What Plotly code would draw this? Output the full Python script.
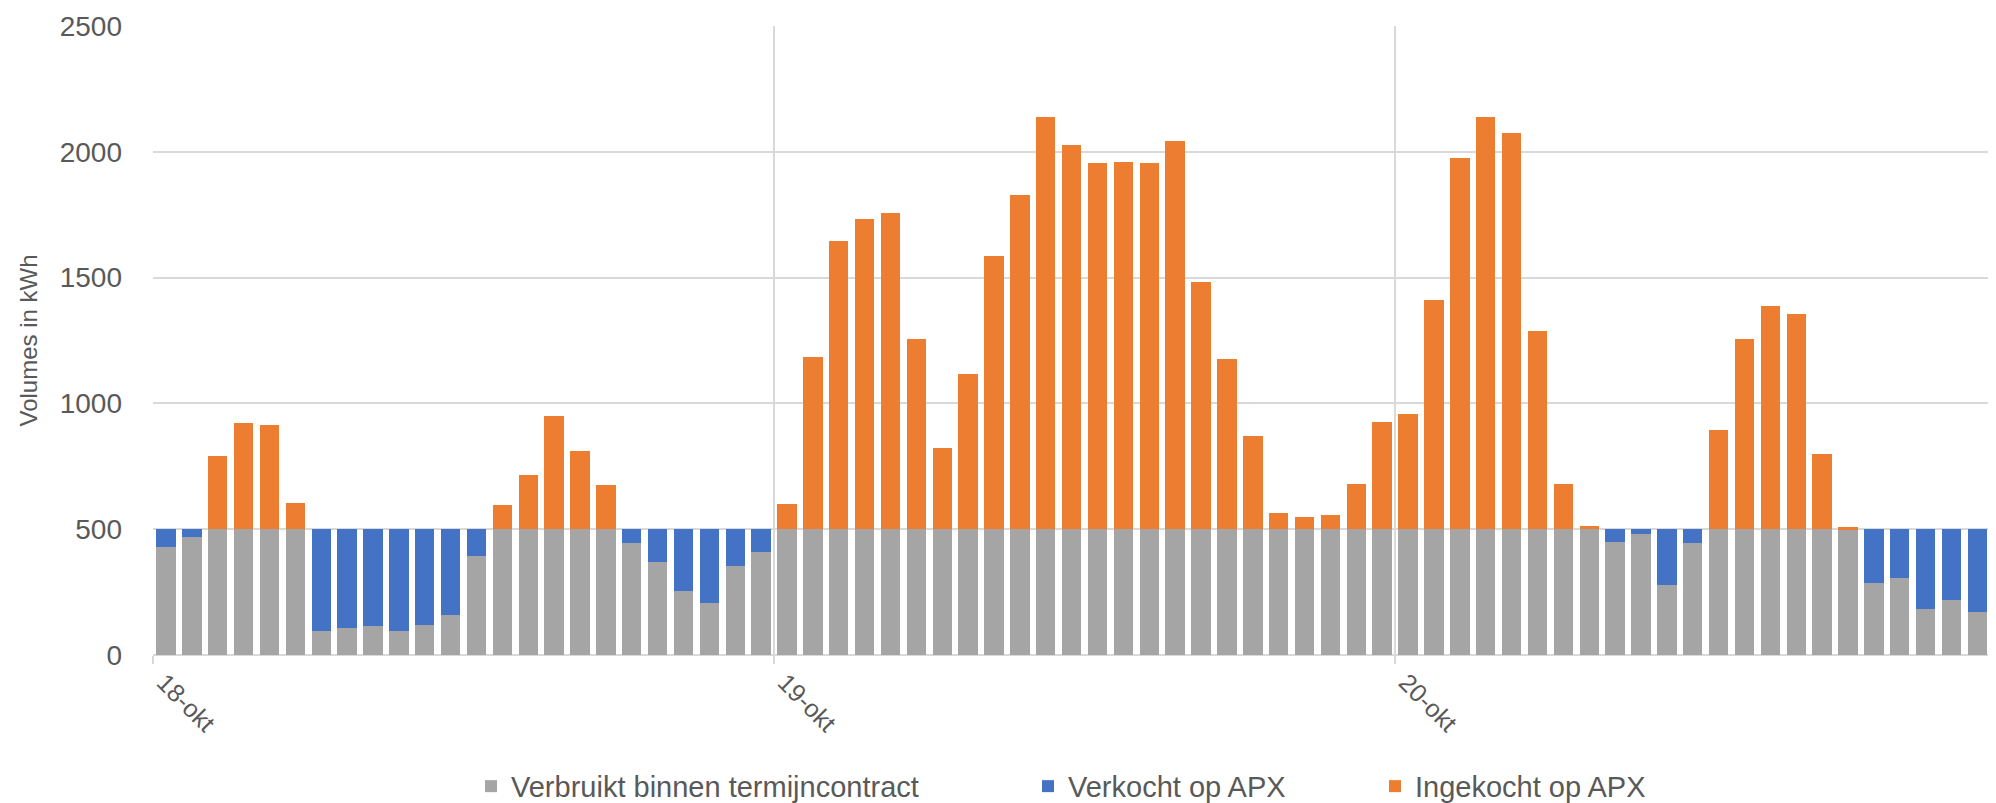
import plotly.graph_objects as go

# uurvolumes 18-okt t/m 20-okt (kWh)
verbruik = [
    431, 468, 789, 924, 915, 606, 95, 106, 117, 95, 121, 160,
    395, 598, 714, 948, 810, 675, 447, 371, 256, 206, 355, 411,
    602, 1185, 1644, 1731, 1758, 1255, 822, 1117, 1586, 1830, 2137, 2027,
    1956, 1959, 1956, 2041, 1481, 1178, 871, 565, 549, 558, 678, 927,
    956, 1410, 1975, 2138, 2074, 1289, 678, 511, 450, 481, 280, 446,
    895, 1255, 1388, 1356, 797, 507, 288, 308, 183, 219, 172, 431,
]
termijncontract = 500
dagen = ['18-okt', '19-okt', '20-okt']
namen = ['Verbruikt binnen termijncontract', 'Verkocht op APX', 'Ingekocht op APX']
kleuren = ['#a5a5a5', '#4472c4', '#ed7d31']

uren = list(range(len(verbruik)))
binnen = [min(v, termijncontract) for v in verbruik]
verkocht = [max(termijncontract - v, 0) for v in verbruik]
ingekocht = [max(v - termijncontract, 0) for v in verbruik]

# de pagina heeft 8px body-marge, dus alles 8px naar links/boven
OFF = 8
W, H = 1996 - OFF, 803 - OFF
ML = 153 - OFF
MT = 25.5 - OFF
MB = H - (655.5 - OFF)
plot_w = W - ML
plot_h = H - MT - MB


def px_x(px):
    # pagina pixel -> paper coordinaat
    return (px - OFF - ML) / plot_w


def px_y(py):
    return (H - MB - (py - OFF)) / plot_h


font = 'Liberation Sans, Arial, sans-serif'
grijs_tekst = '#595959'

fig = go.Figure()
for i, (naam, kleur, waarden) in enumerate(zip(namen, kleuren, [binnen, verkocht, ingekocht])):
    fig.add_trace(go.Bar(
        x=uren, y=waarden, name=naam,
        marker=dict(color=kleur, line=dict(width=0)),
        width=0.75,
        legend='legend' if i == 0 else 'legend%d' % (i + 1),
    ))

# drie losse legenda's zodat de onderlinge afstand klopt
tekst_start = [511, 1068, 1415]
legendas = {}
for i, xs in enumerate(tekst_start):
    key = 'legend' if i == 0 else 'legend%d' % (i + 1)
    legendas[key] = dict(
        x=px_x(xs - 40), xanchor='left',
        y=px_y(787), yanchor='middle',
        orientation='h',
        font=dict(family=font, size=29, color=grijs_tekst),
        bgcolor='rgba(0,0,0,0)',
    )

fig.update_layout(
    barmode='stack',
    width=W, height=H,
    margin=dict(l=ML, r=0, t=MT, b=MB, autoexpand=False),
    plot_bgcolor='white',
    paper_bgcolor='white',
    showlegend=True,
    **legendas,
)

fig.update_yaxes(
    range=[0, 2500], dtick=500,
    showgrid=True, gridcolor='#d9d9d9', gridwidth=1.5,
    zeroline=True, zerolinecolor='#d9d9d9', zerolinewidth=1.5,
    showline=False,
    ticklabelstandoff=30,
    tickfont=dict(family=font, size=28, color=grijs_tekst),
    title=dict(text='Volumes in kWh', standoff=15,
               font=dict(family=font, size=24, color=grijs_tekst)),
)

fig.update_xaxes(
    range=[-0.5, 70.72],
    tickvals=[-0.5, 23.5, 47.5], ticktext=dagen,
    tickangle=45,
    ticklabelshift=11, ticklabelstandoff=-6,
    showgrid=True, gridcolor='#d9d9d9', gridwidth=1.5,
    ticks='outside', ticklen=8, tickcolor='#d9d9d9', tickwidth=1.5,
    showline=False, zeroline=False,
    tickfont=dict(family=font, size=25, color=grijs_tekst),
)

fig.write_html("out.html")
